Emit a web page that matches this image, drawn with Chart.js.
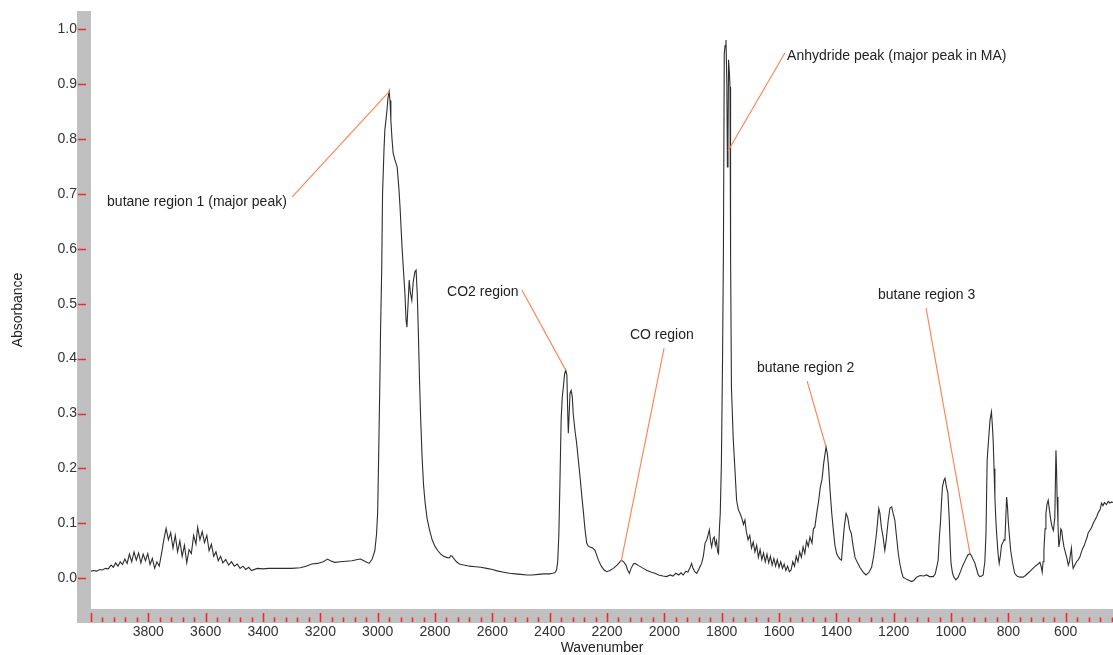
<!DOCTYPE html>
<html>
<head>
<meta charset="utf-8">
<title>Absorbance spectrum</title>
<script src="https://cdn.jsdelivr.net/npm/chart.js@4.4.1/dist/chart.umd.min.js"></script>
<style>
  html, body { margin: 0; padding: 0; background: #ffffff; }
  #wrap { width: 1113px; height: 655px; }
</style>
</head>
<body>
<div id="wrap"><canvas id="spectrum" width="1113" height="655"></canvas></div>
<script>
// Infrared absorbance spectrum (wavenumber in cm-1, absorbance)
const wavenumber = [
  4000, 3990, 3980, 3970, 3960, 3950, 3940, 3930, 3922, 3914,
  3906, 3898, 3890, 3882, 3874, 3866, 3858, 3850, 3842, 3834,
  3826, 3818, 3810, 3802, 3794, 3786, 3778, 3770, 3762, 3754,
  3746, 3738, 3730, 3722, 3714, 3706, 3698, 3690, 3682, 3674,
  3666, 3658, 3650, 3642, 3634, 3628, 3620, 3612, 3604, 3596,
  3588, 3580, 3572, 3564, 3556, 3548, 3540, 3530, 3520, 3510,
  3500, 3490, 3480, 3470, 3460, 3450, 3440, 3420, 3400, 3380,
  3350, 3300, 3270, 3250, 3230, 3210, 3190, 3175, 3165, 3150,
  3130, 3110, 3090, 3070, 3060, 3045, 3030, 3020, 3010, 3004,
  3000, 2996, 2992, 2990, 2986, 2983, 2978, 2975, 2968, 2964,
  2960, 2957, 2954, 2950, 2946, 2940, 2932, 2926, 2922, 2915,
  2910, 2905, 2901, 2898, 2894, 2890, 2886, 2881, 2876, 2870,
  2866, 2862, 2858, 2854, 2850, 2845, 2840, 2835, 2828, 2820,
  2810, 2800, 2790, 2780, 2770, 2760, 2750, 2745, 2740, 2735,
  2725, 2715, 2700, 2680, 2660, 2640, 2620, 2600, 2580, 2560,
  2540, 2520, 2500, 2480, 2460, 2440, 2420, 2400, 2390, 2382,
  2376, 2372, 2368, 2364, 2360, 2356, 2352, 2348, 2344, 2340,
  2337, 2335, 2332, 2329, 2325, 2321, 2318, 2312, 2306, 2300,
  2294, 2288, 2283, 2277, 2271, 2265, 2259, 2250, 2242, 2236,
  2230, 2220, 2210, 2201, 2190, 2178, 2165, 2155, 2150, 2142,
  2134, 2128, 2122, 2116, 2108, 2102, 2090, 2073, 2060, 2045,
  2033, 2020, 2005, 1992, 1980, 1970, 1960, 1950, 1942, 1934,
  1925, 1918, 1910, 1905, 1900, 1894, 1887, 1880, 1875, 1870,
  1864, 1858, 1852, 1847, 1843, 1839, 1835, 1830, 1826, 1822,
  1818, 1814, 1811, 1808, 1805, 1801, 1797, 1794, 1791, 1788,
  1785, 1782, 1780, 1778, 1776, 1773, 1771, 1769, 1766, 1760,
  1754, 1748, 1742, 1736, 1730, 1724, 1719, 1714, 1708, 1702,
  1696, 1690, 1684, 1678, 1672, 1666, 1660, 1654, 1648, 1642,
  1636, 1630, 1624, 1618, 1612, 1606, 1600, 1594, 1588, 1582,
  1576, 1570, 1564, 1558, 1552, 1546, 1540, 1534, 1528, 1522,
  1516, 1510, 1504, 1498, 1492, 1485, 1480, 1475, 1468, 1462,
  1456, 1450, 1444, 1436, 1431, 1427, 1422, 1416, 1410, 1405,
  1399, 1392, 1386, 1382, 1378, 1372, 1366, 1360, 1354, 1348,
  1342, 1335, 1326, 1318, 1308, 1297, 1287, 1277, 1270, 1265,
  1260, 1255, 1252, 1248, 1243, 1237, 1231, 1226, 1219, 1213,
  1207, 1202, 1196, 1190, 1184, 1178, 1172, 1167, 1155, 1145,
  1138, 1130, 1120, 1108, 1095, 1085, 1075, 1062, 1055, 1048,
  1045, 1040, 1037, 1033, 1030, 1025, 1021, 1016, 1011, 1006,
  1003, 1000, 995, 990, 983, 975, 967, 960, 950, 942,
  934, 928, 922, 917, 910, 905, 900, 893, 888, 882,
  878, 874, 868, 864, 859, 856, 853, 850, 847, 844,
  841, 836, 832, 828, 824, 820, 815, 812, 809, 806,
  803, 800, 796, 792, 786, 778, 770, 760, 749, 740,
  730, 722, 714, 706, 698, 690, 686, 682, 679, 676,
  672, 669, 665, 661, 657, 652, 648, 643, 638, 634,
  632, 630, 627, 624, 620, 617, 614, 610, 606, 600,
  595, 591, 587, 583, 580, 577, 574, 568, 562, 556,
  551, 545, 540, 535, 530, 525, 522, 515, 510, 504,
  498, 492, 486, 480, 475, 470, 465, 458, 452, 446,
  440, 435
];

const absorbance = [
  0.013, 0.014, 0.013, 0.016, 0.015, 0.018, 0.017, 0.024, 0.020, 0.028,
  0.022, 0.030, 0.025, 0.035, 0.027, 0.044, 0.030, 0.048, 0.033, 0.046,
  0.028, 0.044, 0.032, 0.045, 0.025, 0.036, 0.018, 0.030, 0.022, 0.045,
  0.070, 0.091, 0.070, 0.083, 0.055, 0.078, 0.048, 0.068, 0.040, 0.060,
  0.028, 0.052, 0.045, 0.078, 0.062, 0.093, 0.070, 0.085, 0.065, 0.078,
  0.050, 0.062, 0.040, 0.048, 0.032, 0.040, 0.028, 0.034, 0.024, 0.030,
  0.022, 0.026, 0.018, 0.022, 0.016, 0.020, 0.014, 0.018, 0.017, 0.018,
  0.018, 0.018, 0.019, 0.022, 0.026, 0.027, 0.030, 0.035, 0.032, 0.029,
  0.030, 0.031, 0.032, 0.034, 0.035, 0.031, 0.027, 0.034, 0.050, 0.080,
  0.120, 0.240, 0.370, 0.450, 0.560, 0.700, 0.780, 0.816, 0.850, 0.875,
  0.886, 0.870, 0.834, 0.800, 0.774, 0.762, 0.749, 0.710, 0.676, 0.603,
  0.560, 0.519, 0.470, 0.457, 0.500, 0.543, 0.520, 0.506, 0.540, 0.558,
  0.561, 0.519, 0.446, 0.360, 0.290, 0.220, 0.170, 0.140, 0.110, 0.090,
  0.070, 0.058, 0.050, 0.044, 0.040, 0.038, 0.037, 0.041, 0.040, 0.036,
  0.030, 0.026, 0.024, 0.022, 0.021, 0.020, 0.018, 0.016, 0.013, 0.011,
  0.009, 0.008, 0.007, 0.006, 0.006, 0.007, 0.008, 0.008, 0.009, 0.010,
  0.015, 0.030, 0.080, 0.180, 0.290, 0.330, 0.350, 0.372, 0.379, 0.370,
  0.300, 0.264, 0.300, 0.337, 0.342, 0.330, 0.300, 0.270, 0.246, 0.215,
  0.184, 0.150, 0.124, 0.090, 0.064, 0.058, 0.057, 0.055, 0.051, 0.042,
  0.033, 0.022, 0.015, 0.012, 0.014, 0.018, 0.024, 0.030, 0.033, 0.030,
  0.024, 0.015, 0.009, 0.018, 0.026, 0.027, 0.023, 0.018, 0.014, 0.011,
  0.009, 0.006, 0.004, 0.003, 0.006, 0.004, 0.009, 0.006, 0.010, 0.006,
  0.013, 0.011, 0.020, 0.027, 0.018, 0.012, 0.009, 0.016, 0.022, 0.027,
  0.040, 0.064, 0.070, 0.080, 0.088, 0.068, 0.057, 0.072, 0.075, 0.060,
  0.068, 0.048, 0.045, 0.090, 0.118, 0.209, 0.400, 0.592, 0.956, 0.970,
  0.980, 0.900, 0.749, 0.800, 0.944, 0.920, 0.895, 0.590, 0.348, 0.257,
  0.200, 0.142, 0.125, 0.118, 0.110, 0.098, 0.106, 0.085, 0.070, 0.078,
  0.055, 0.066, 0.048, 0.060, 0.038, 0.052, 0.034, 0.046, 0.030, 0.044,
  0.028, 0.040, 0.024, 0.036, 0.022, 0.034, 0.020, 0.030, 0.018, 0.026,
  0.014, 0.022, 0.012, 0.015, 0.030, 0.022, 0.040, 0.030, 0.048, 0.038,
  0.057, 0.045, 0.068, 0.058, 0.075, 0.064, 0.090, 0.093, 0.120, 0.140,
  0.166, 0.180, 0.210, 0.239, 0.225, 0.202, 0.160, 0.118, 0.085, 0.060,
  0.045, 0.038, 0.034, 0.033, 0.060, 0.095, 0.118, 0.110, 0.090, 0.082,
  0.060, 0.038, 0.028, 0.020, 0.012, 0.006, 0.010, 0.020, 0.040, 0.060,
  0.082, 0.110, 0.127, 0.118, 0.093, 0.075, 0.051, 0.070, 0.106, 0.128,
  0.130, 0.118, 0.106, 0.075, 0.045, 0.025, 0.010, 0.002, -0.002, -0.004,
  -0.006, -0.004, 0.002, 0.005, 0.004, 0.006, 0.003, 0.003, 0.008, 0.025,
  0.033, 0.080, 0.100, 0.140, 0.166, 0.178, 0.182, 0.166, 0.155, 0.106,
  0.060, 0.027, 0.010, 0.002, -0.003, 0.002, 0.012, 0.022, 0.033, 0.042,
  0.045, 0.040, 0.033, 0.028, 0.015, 0.006, 0.003, 0.004, 0.006, 0.030,
  0.082, 0.215, 0.260, 0.288, 0.303, 0.280, 0.251, 0.200, 0.148, 0.110,
  0.082, 0.045, 0.027, 0.040, 0.060, 0.064, 0.070, 0.069, 0.110, 0.148,
  0.130, 0.100, 0.075, 0.051, 0.030, 0.009, 0.004, 0.002, 0.002, 0.005,
  0.010, 0.014, 0.018, 0.022, 0.025, 0.029, 0.022, 0.011, 0.030, 0.051,
  0.090, 0.118, 0.135, 0.142, 0.125, 0.106, 0.095, 0.087, 0.110, 0.233,
  0.200, 0.148, 0.100, 0.057, 0.070, 0.090, 0.087, 0.070, 0.057, 0.045,
  0.035, 0.024, 0.030, 0.045, 0.055, 0.030, 0.018, 0.024, 0.030, 0.034,
  0.038, 0.048, 0.055, 0.060, 0.068, 0.075, 0.082, 0.088, 0.092, 0.100,
  0.106, 0.112, 0.120, 0.125, 0.137, 0.132, 0.138, 0.134, 0.140, 0.137,
  0.139, 0.138
];

// Axis ticks
const xMajorTicks = [4000, 3800, 3600, 3400, 3200, 3000, 2800, 2600, 2400, 2200, 2000, 1800, 1600, 1400, 1200, 1000, 800, 600];
const xLabelledTicks = [3800, 3600, 3400, 3200, 3000, 2800, 2600, 2400, 2200, 2000, 1800, 1600, 1400, 1200, 1000, 800, 600];
const xMinorStep = 40;
const yTicks = [0.0, 0.1, 0.2, 0.3, 0.4, 0.5, 0.6, 0.7, 0.8, 0.9, 1.0];

// Peak annotations: label text, label anchor (wavenumber, absorbance), leader line from -> to
const noteLabels = ['butane region 1 (major peak)', 'CO2 region', 'CO region', 'butane region 2', 'butane region 3', 'Anhydride peak (major peak in MA)'];
const noteTextAt = [[3944, 0.685], [2758, 0.521], [2120, 0.443], [1677, 0.383], [1255, 0.516], [1572, 0.951]];
const noteLineFrom = [[3299, 0.694], [2497, 0.525], [2001, 0.419], [1502, 0.359], [1087, 0.492], [1579, 0.957]];
const noteLineTo = [[2960, 0.886], [2344, 0.379], [2151, 0.030], [1436, 0.239], [934, 0.045], [1778, 0.778]];

const X_MIN = 435, X_MAX = 4000, Y_MIN = -0.056, Y_MAX = 1.033;
const FONT = "'Liberation Sans', Arial, sans-serif";
const TICK_RED = 'rgb(236, 44, 44)';
const FRAME_GREY = '#c0c0c0';

const points = wavenumber.map((w, i) => ({ x: w, y: absorbance[i] }));

const xAllTicks = [];
for (let v = X_MAX; v >= X_MIN; v -= xMinorStep) xAllTicks.push(v);

// Keep the plot area flush with the frame: no extra label padding on the axes
const noEdgePadding = s => {
  s.paddingLeft = 0;
  s.paddingRight = 0;
  s.paddingTop = 0;
  s.paddingBottom = 0;
};

// Grey frame along the left and bottom edges with red tick marks
const framePlugin = {
  id: 'frame',
  beforeDraw(chart) {
    const { ctx, chartArea: a } = chart;
    ctx.save();
    ctx.fillStyle = FRAME_GREY;
    ctx.fillRect(77, a.top, a.left - 77, a.bottom + 14 - a.top);
    ctx.fillRect(77, a.bottom, chart.width - 77, 14);
    ctx.restore();
  },
  afterDraw(chart) {
    const { ctx, chartArea: a } = chart;
    const xs = chart.scales.x, ys = chart.scales.y;
    ctx.save();
    ctx.strokeStyle = TICK_RED;
    ctx.lineWidth = 1.6;
    ctx.beginPath();
    yTicks.forEach(v => {
      const y = Math.round(ys.getPixelForValue(v)) + 0.5;
      ctx.moveTo(78, y);
      ctx.lineTo(86, y);
    });
    xAllTicks.forEach(v => {
      const x = Math.round(xs.getPixelForValue(v)) + 0.5;
      const major = xMajorTicks.includes(v);
      ctx.moveTo(x, major ? a.bottom + 4 : a.bottom + 8.5);
      ctx.lineTo(x, a.bottom + 13);
    });
    ctx.stroke();
    ctx.restore();
  },
  afterDatasetsDraw(chart) {
    const { ctx } = chart;
    const xs = chart.scales.x, ys = chart.scales.y;
    const px = p => [xs.getPixelForValue(p[0]), ys.getPixelForValue(p[1])];
    ctx.save();
    ctx.strokeStyle = 'rgb(255, 128, 80)';
    ctx.lineWidth = 1.1;
    noteLabels.forEach((label, i) => {
      const [x1, y1] = px(noteLineFrom[i]);
      const [x2, y2] = px(noteLineTo[i]);
      ctx.beginPath();
      ctx.moveTo(x1, y1);
      ctx.lineTo(x2, y2);
      ctx.stroke();
    });
    ctx.fillStyle = '#222222';
    ctx.font = '14px ' + FONT;
    ctx.textAlign = 'left';
    ctx.textBaseline = 'middle';
    noteLabels.forEach((label, i) => {
      const [tx, ty] = px(noteTextAt[i]);
      ctx.fillText(label, tx, ty);
    });
    ctx.restore();
  }
};

new Chart(document.getElementById('spectrum'), {
  type: 'line',
  data: {
    datasets: [{
      data: points,
      borderColor: '#2e2e2e',
      borderWidth: 1.1,
      pointRadius: 0,
      tension: 0,
      fill: false
    }]
  },
  options: {
    responsive: false,
    devicePixelRatio: 1,
    animation: false,
    layout: { padding: { top: 11, right: 0, bottom: 0, left: 0 } },
    plugins: { legend: { display: false }, tooltip: { enabled: false } },
    scales: {
      x: {
        type: 'linear',
        reverse: true,
        min: X_MIN,
        max: X_MAX,
        grid: { display: false, drawTicks: false, tickLength: 0 },
        border: { display: false },
        afterBuildTicks: s => { s.ticks = xAllTicks.map(v => ({ value: v })); },
        afterFit: s => { s.height = 46; noEdgePadding(s); },
        ticks: {
          autoSkip: false,
          maxRotation: 0,
          padding: 15,
          color: '#333333',
          font: { family: FONT, size: 14 },
          callback: v => (xLabelledTicks.includes(v) ? String(v) : '')
        },
        title: {
          display: true,
          text: 'Wavenumber',
          color: '#222222',
          font: { family: FONT, size: 14, lineHeight: 1 },
          padding: { top: 0, bottom: 0 }
        }
      },
      y: {
        min: Y_MIN,
        max: Y_MAX,
        grid: { display: false, drawTicks: false, tickLength: 0 },
        border: { display: false },
        afterBuildTicks: s => { s.ticks = yTicks.map(v => ({ value: v })); },
        afterFit: s => { s.width = 91; noEdgePadding(s); },
        ticks: {
          padding: 14,
          color: '#333333',
          font: { family: FONT, size: 14 },
          callback: v => Number(v).toFixed(1)
        },
        title: {
          display: true,
          text: 'Absorbance',
          color: '#222222',
          font: { family: FONT, size: 14, lineHeight: 1.2 },
          padding: { top: 10, bottom: 0 }
        }
      }
    }
  },
  plugins: [framePlugin]
});
</script>
</body>
</html>
